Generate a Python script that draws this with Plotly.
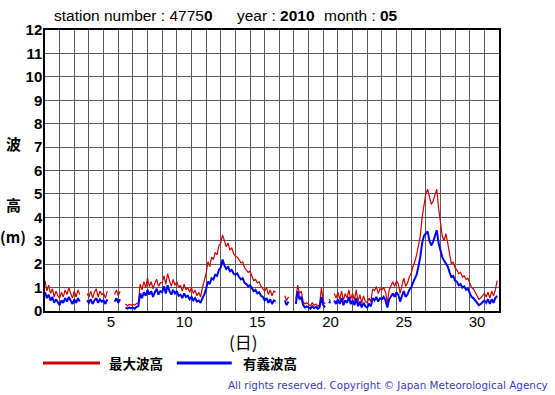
import plotly.graph_objects as go

# ---------------- data (3-hourly values, May 2010, station 47750) ----------------
start_day = 1
samples_per_day = 8

# significant wave height (m)  有義波高
sig_wave = [
    0.80, 0.55, 0.70, 0.45, 0.60, 0.35, 0.50, 0.40,   # day 1
    0.25, 0.45, 0.35, 0.55, 0.40, 0.60, 0.45, 0.30,   # day 2
    0.50, 0.35, 0.55, 0.40, None, None, None, 0.45,   # day 3
    0.35, 0.50, 0.30, 0.45, 0.55, 0.35, 0.50, 0.40,   # day 4
    0.45, 0.30, 0.50, None, None, None, 0.40, 0.55,   # day 5
    0.35, 0.50, None, None, 0.15, 0.10, 0.15, 0.12,   # day 6
    0.15, 0.10, 0.18, 0.20, 0.75, 0.55, 0.80, 0.65,   # day 7
    0.90, 0.70, 0.85, 0.60, 0.80, 0.95, 0.70, 0.85,   # day 8
    0.80, 1.05, 0.75, 1.10, 0.85, 0.70, 0.90, 0.75,   # day 9
    0.85, 0.65, 0.70, 0.55, 0.75, 0.60, 0.65, 0.50,   # day 10
    0.60, 0.45, 0.55, 0.40, 0.45, 0.35, 0.55, 0.70,   # day 11
    0.95, 1.25, 1.15, 1.40, 1.35, 1.55, 1.50, 1.75,   # day 12
    1.85, 2.20, 1.95, 1.80, 1.90, 1.70, 1.75, 1.60,   # day 13
    1.55, 1.60, 1.45, 1.35, 1.40, 1.20, 1.15, 1.05,   # day 14
    1.10, 0.95, 0.85, 0.90, 0.75, 0.80, 0.65, 0.60,   # day 15
    0.45, 0.55, 0.35, 0.50, 0.30, 0.45, 0.40, None,   # day 16
    None, None, None, 0.45, 0.25, 0.40, None, None,   # day 17
    None, 0.30, 0.85, 0.50, 0.60, 0.25, 0.15, 0.20,   # day 18
    0.15, 0.10, 0.20, 0.12, 0.18, 0.10, 0.15, 0.60,   # day 19
    0.25, 0.15, None, 0.40, 0.35, None, 0.45, 0.30,   # day 20
    0.50, 0.30, 0.55, 0.25, 0.45, 0.35, 0.60, 0.30,   # day 21
    0.45, 0.25, 0.55, 0.20, 0.40, 0.15, 0.35, 0.20,   # day 22
    0.15, 0.30, 0.20, 0.55, 0.45, 0.60, 0.40, 0.55,   # day 23
    0.50, 0.60, 0.45, 0.15, 0.50, 0.65, 0.75, 0.60,   # day 24
    0.80, 0.70, 0.40, 0.65, 0.85, 0.60, 0.70, 0.90,   # day 25
    1.00, 1.20, 1.35, 1.55, 1.90, 2.30, 2.90, 3.20,   # day 26
    3.30, 3.40, 3.00, 2.80, 2.95, 3.20, 3.45, 2.90,   # day 27
    2.60, 2.30, 2.15, 2.00, 1.90, 1.65, 1.45, 1.50,   # day 28
    1.30, 1.25, 1.10, 1.15, 1.00, 1.05, 0.90, 0.95,   # day 29
    0.80, 0.60, 0.55, 0.45, 0.35, 0.25, 0.30, 0.40,   # day 30
    0.45, 0.35, 0.50, 0.30, 0.50, 0.35, 0.55, 0.65,   # day 31
]

# maximum wave height (m)  最大波高
max_wave = [
    1.30, 0.85, 1.10, 0.75, 0.95, 0.60, 0.85, 0.65,   # day 1
    0.55, 0.80, 0.60, 0.90, 0.70, 1.00, 0.75, 0.55,   # day 2
    0.85, 0.60, 0.90, 0.70, None, None, None, 0.75,   # day 3
    0.60, 0.85, 0.55, 0.80, 0.95, 0.60, 0.85, 0.70,   # day 4
    0.75, 0.55, 0.85, None, None, None, 0.70, 0.90,   # day 5
    0.65, 0.85, None, None, 0.30, 0.22, 0.28, 0.25,   # day 6
    0.28, 0.25, 0.32, 0.35, 1.15, 0.90, 1.25, 1.00,   # day 7
    1.40, 1.05, 1.25, 0.95, 1.20, 1.35, 1.05, 1.20,   # day 8
    1.20, 1.50, 1.15, 1.60, 1.30, 1.05, 1.35, 1.10,   # day 9
    1.25, 1.00, 1.10, 0.85, 1.15, 0.90, 1.00, 0.80,   # day 10
    1.00, 0.75, 0.90, 0.65, 0.80, 0.60, 1.00, 1.30,   # day 11
    1.60, 2.10, 1.90, 2.30, 2.20, 2.50, 2.40, 2.80,   # day 12
    2.90, 3.25, 3.00, 2.75, 2.90, 2.60, 2.70, 2.45,   # day 13
    2.35, 2.30, 2.20, 2.05, 2.10, 1.85, 1.75, 1.65,   # day 14
    1.70, 1.45, 1.30, 1.35, 1.20, 1.25, 1.05, 0.95,   # day 15
    0.85, 1.00, 0.70, 0.90, 0.65, 0.85, 0.80, None,   # day 16
    None, None, None, 0.65, 0.45, 0.60, None, None,   # day 17
    None, 0.50, 1.10, 0.75, 0.85, 0.40, 0.30, 0.35,   # day 18
    0.30, 0.22, 0.35, 0.25, 0.30, 0.20, 0.28, 1.00,   # day 19
    0.40, 0.30, None, 0.50, 0.45, None, 0.75, 0.55,   # day 20
    0.80, 0.50, 0.85, 0.45, 0.75, 0.55, 0.90, 0.50,   # day 21
    0.75, 0.45, 0.90, 0.40, 0.70, 0.35, 0.65, 0.40,   # day 22
    0.35, 0.55, 0.40, 0.95, 0.85, 1.05, 0.75, 0.95,   # day 23
    0.90, 1.00, 0.80, 0.35, 0.90, 1.10, 1.25, 1.05,   # day 24
    1.30, 1.15, 0.75, 1.10, 1.40, 1.05, 1.20, 1.45,   # day 25
    1.60, 1.90, 2.10, 2.40, 2.80, 3.20, 4.00, 4.60,   # day 26
    5.00, 5.20, 4.90, 4.55, 4.70, 5.00, 5.20, 4.40,   # day 27
    3.80, 3.20, 3.00, 3.30, 2.90, 2.40, 2.00, 2.10,   # day 28
    1.85, 1.75, 1.60, 1.65, 1.45, 1.50, 1.35, 1.40,   # day 29
    1.20, 1.00, 0.95, 0.80, 0.60, 0.50, 0.55, 0.65,   # day 30
    0.75, 0.60, 0.80, 0.55, 0.85, 0.65, 0.90, 1.30,   # day 31
]

x_tick_days = [5, 10, 15, 20, 25, 30]
y_ticks = list(range(0, 13))

times = [start_day + i / samples_per_day for i in range(len(sig_wave))]

# ---------------- layout geometry helpers ----------------
W, H = 555, 395
L, R, T, B = 45, 499.5, 30, 311


def px(x):
    return (x - L) / (R - L)


def py(y):
    return (B - y) / (B - T)


fig = go.Figure()
fig.add_trace(go.Scatter(x=times, y=max_wave, mode="lines",
                         line=dict(color="#cc0000", width=1.2),
                         connectgaps=False, showlegend=False, hoverinfo="skip"))
fig.add_trace(go.Scatter(x=times, y=sig_wave, mode="lines",
                         line=dict(color="#0000ff", width=2),
                         connectgaps=False, showlegend=False, hoverinfo="skip"))

grid_col = "#5a5a5a"
fig.update_layout(
    width=W, height=H,
    margin=dict(l=L, r=W - R, t=T, b=H - B, pad=0),
    paper_bgcolor="white", plot_bgcolor="white",
    showlegend=False,
    xaxis=dict(
        range=[1, 32], showgrid=False, zeroline=False,
        tickvals=[d + 0.5 for d in x_tick_days],
        ticktext=[str(d) for d in x_tick_days],
        ticks="", ticklabelstandoff=-4,
        tickfont=dict(family="Liberation Sans, Arial", size=15, color="black"),
        showline=True, linecolor="black", linewidth=2, mirror=True,
        minor=dict(tick0=1, dtick=1, showgrid=True, gridcolor=grid_col, gridwidth=1, ticks=""),
        fixedrange=True,
    ),
    yaxis=dict(
        range=[0, 12], tickvals=y_ticks, ticktext=[str(v) for v in y_ticks],
        showgrid=True, gridcolor=grid_col, gridwidth=1, zeroline=False,
        ticks="", ticklabelstandoff=-2,
        tickfont=dict(family="Liberation Sans, Arial", size=15, color="black", weight="bold"),
        showline=True, linecolor="black", linewidth=1.5, mirror=True,
        fixedrange=True,
    ),
)

ann = []
txt_font = dict(family="Liberation Sans, Arial", size=15.5, color="black")
ann.append(dict(x=px(52), y=py(16), xref="paper", yref="paper", xanchor="left", yanchor="middle",
                text="station number : 4775<b>0</b>", showarrow=False, font=txt_font))
ann.append(dict(x=px(235), y=py(16), xref="paper", yref="paper", xanchor="left", yanchor="middle",
                text="year : <b>2010</b>", showarrow=False, font=txt_font))
ann.append(dict(x=px(322), y=py(16), xref="paper", yref="paper", xanchor="left", yanchor="middle",
                text="month : <b>05</b>", showarrow=False, font=txt_font))

jp = "Noto Sans CJK JP"
for ch, yy in [("波", 143), ("高", 204), ("(m)", 236)]:
    ann.append(dict(x=px(13), y=py(yy), xref="paper", yref="paper", xanchor="center", yanchor="middle",
                    text=ch, showarrow=False,
                    font=dict(family=jp, size=15, color="black", weight="bold")))

ann.append(dict(x=px(244), y=py(341), xref="paper", yref="paper", xanchor="center", yanchor="middle",
                text="(日)", showarrow=False, font=dict(family=jp, size=17, color="black")))

ann.append(dict(x=px(107), y=py(363), xref="paper", yref="paper", xanchor="left", yanchor="middle",
                text="最大波高", showarrow=False, font=dict(family=jp, size=13.5, color="black", weight="bold")))
ann.append(dict(x=px(241), y=py(363), xref="paper", yref="paper", xanchor="left", yanchor="middle",
                text="有義波高", showarrow=False, font=dict(family=jp, size=13.5, color="black", weight="bold")))

ann.append(dict(x=px(551), y=py(385), xref="paper", yref="paper", xanchor="right", yanchor="middle",
                text="All rights reserved. Copyright © Japan Meteorological Agency", showarrow=False,
                font=dict(family="DejaVu Sans, Verdana", size=10.4, color="#3a3acc")))

fig.update_layout(annotations=ann)

shapes = [
    dict(type="line", xref="paper", yref="paper", x0=px(43), x1=px(100), y0=py(363), y1=py(363),
         line=dict(color="#cc0000", width=3)),
    dict(type="line", xref="paper", yref="paper", x0=px(177), x1=px(232), y0=py(363), y1=py(363),
         line=dict(color="#0000ff", width=3)),
]
fig.update_layout(shapes=shapes)

fig.write_html("out.html", config={"displayModeBar": False},
               post_script="document.body.style.margin='0';document.body.style.padding='0';")
